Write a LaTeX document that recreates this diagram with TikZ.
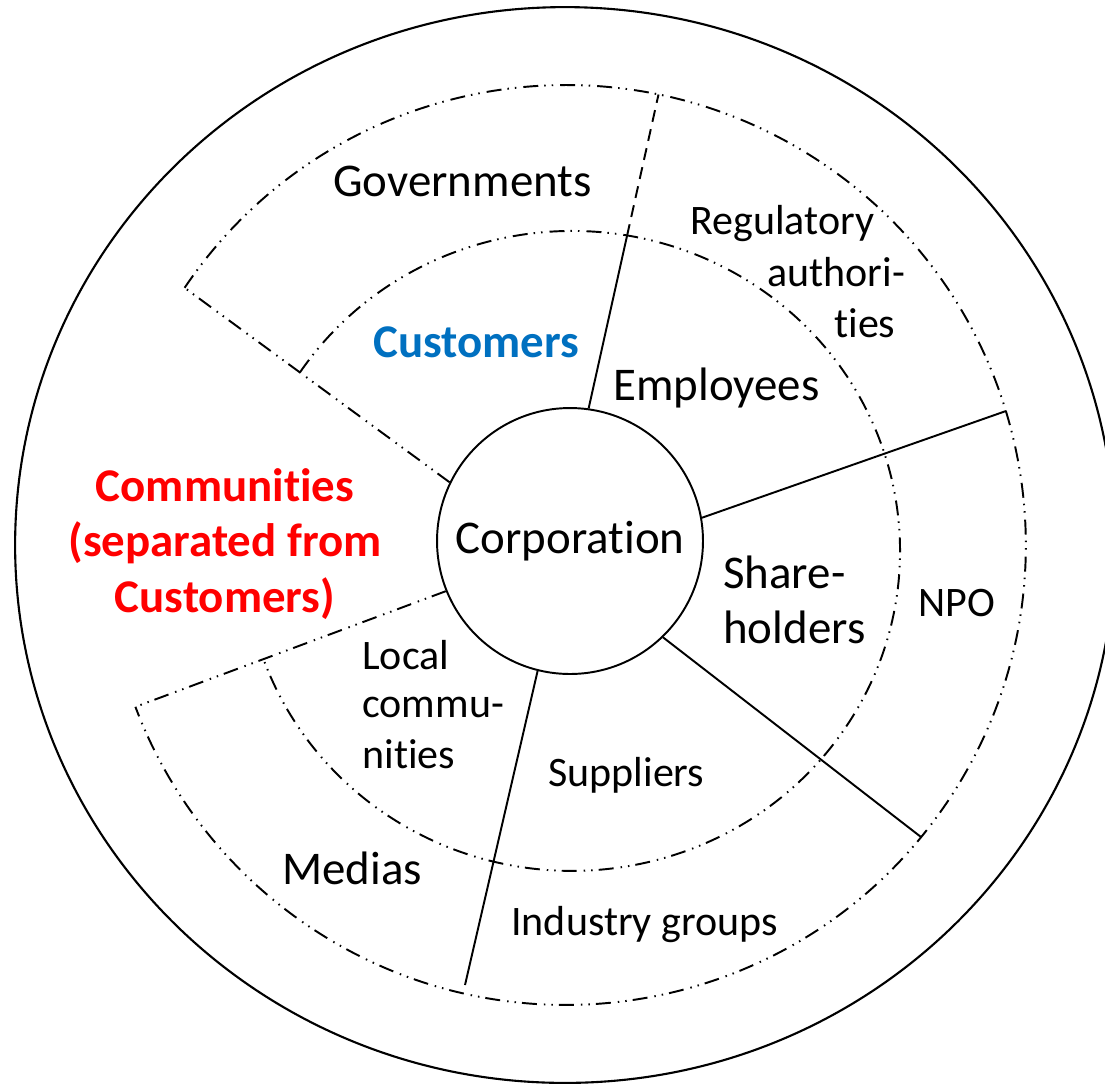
\documentclass[tikz,border=0pt]{standalone}
\usepackage{fontspec}
\setmainfont{Carlito}[Ligatures={NoCommon,NoContextual}]
\definecolor{custblue}{HTML}{0070C0}
\definecolor{commred}{HTML}{FF0000}
\tikzset{
  ring/.style={line width=1.1pt,
    dash pattern=on 0.3cm off 0.12cm on 0.03cm off 0.12cm on 0.03cm off 0.14cm},
  divider/.style={line width=1.1pt},
  dashdiv/.style={line width=1.1pt, dash pattern=on 0.24cm off 0.15cm},
  bigtxt/.style={font=\fontsize{26.7pt}{32pt}\selectfont, inner sep=0pt, anchor=base west},
  smalltxt/.style={font=\fontsize{23.9pt}{28pt}\selectfont, inner sep=0pt, anchor=base west},
}
\begin{document}
\begin{tikzpicture}[x=0.02cm, y=0.02cm]
\useasboundingbox (0,0) rectangle (1105,-1083);
\clip (0,0) rectangle (1105,-1083);

% outer boundary
\draw[line width=1.2pt] (565,-545) ellipse [x radius=11cm, y radius=10.76cm];

% stakeholder rings (open on the left)
\draw[ring] (184.6,-287.8) arc[start angle=146, end angle=-159.4, radius=9.2cm];
\draw[ring] (300.2,-372) arc[start angle=146, end angle=-160.25, x radius=6.56cm, y radius=6.4cm];

% corporation
\node[circle, draw, line width=1.1pt, minimum size=5.32cm, inner sep=0pt,
      font=\fontsize{26.7pt}{32pt}\selectfont] (corp) at (570,-541) {Corporation};

% divider end points
\coordinate (p1) at (658.5,-94.5);
\coordinate (q1) at (627,-236);
\coordinate (p2) at (1006,-411);
\coordinate (p3) at (921,-837);
\coordinate (p4) at (465,-985);
\coordinate (p5) at (135.5,-706.8);
\coordinate (p6) at (184.6,-287.8);

\draw[divider] (corp.82) -- (q1);
\draw[dashdiv] (q1) -- (p1);
\draw[divider] (corp.10) -- (p2);
\draw[divider] (corp.314) -- (p3);
\draw[divider] (corp.256) -- (p4);
\draw[ring] (corp.202) -- (p5);
\draw[ring] (corp.154) -- (p6);

% labels
\node[bigtxt] (gov) at (333,-196) {Governments};
\node[smalltxt] (reg1) at (690,-234) {Regulatory};
\node[smalltxt] (reg2) at (767,-286) {authori-};
\node[smalltxt] (reg3) at (834,-337) {ties};
\node[bigtxt, text=custblue, font=\fontsize{26.7pt}{32pt}\selectfont\bfseries] (cust) at (373,-357) {Customers};
\node[bigtxt] (emp) at (613,-400) {Employees};
\node[bigtxt, anchor=base, text=commred, font=\fontsize{26.7pt}{32pt}\selectfont\bfseries] (comm1) at (225,-501) {Communities};
\node[bigtxt, anchor=base, text=commred, font=\fontsize{26.7pt}{32pt}\selectfont\bfseries] (comm2) at (225,-556) {(separated from};
\node[bigtxt, anchor=base, text=commred, font=\fontsize{26.7pt}{32pt}\selectfont\bfseries] (comm3) at (225,-612) {Customers)};
\node[bigtxt] (share1) at (723,-588) {Share-};
\node[bigtxt] (share2) at (723,-643) {holders};
\node[smalltxt] (npo) at (918,-616) {NPO};
\node[smalltxt] (local1) at (362,-669) {Local};
\node[smalltxt] (local2) at (362,-717) {commu-};
\node[smalltxt] (local3) at (362,-768) {nities};
\node[smalltxt] (supp) at (548,-786) {Suppliers};
\node[bigtxt] (medias) at (282,-884) {Medias};
\node[smalltxt] (ind) at (511,-935) {Industry groups};
\end{tikzpicture}
\end{document}
